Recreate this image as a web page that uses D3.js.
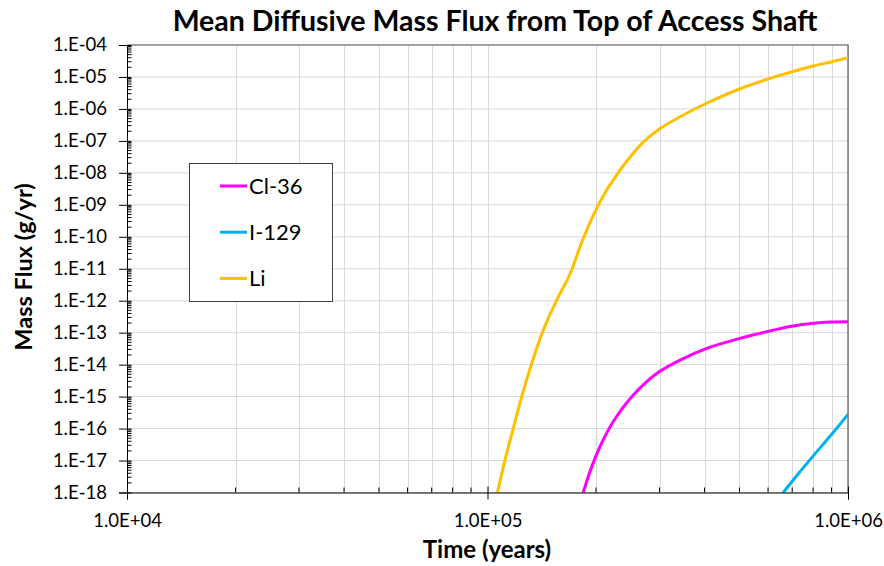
<!DOCTYPE html>
<html><head><meta charset="utf-8">
<script src="https://cdn.jsdelivr.net/npm/d3@7"></script>
<style>body{margin:0;background:#fff}svg{display:block}</style>
</head><body>
<script>
const title = "Mean Diffusive Mass Flux from Top of Access Shaft";
const xTitle = "Time (years)";
const yTitle = "Mass Flux (g/yr)";
const xTickValues = [1e4, 1e5, 1e6];
const xTickLabels = ["1.0E+04", "1.0E+05", "1.0E+06"];
const yTickValues = [1e-4,1e-5,1e-6,1e-7,1e-8,1e-9,1e-10,1e-11,1e-12,1e-13,1e-14,1e-15,1e-16,1e-17,1e-18];
const yTickLabels = ["1.E-04","1.E-05","1.E-06","1.E-07","1.E-08","1.E-09","1.E-10","1.E-11","1.E-12","1.E-13","1.E-14","1.E-15","1.E-16","1.E-17","1.E-18"];
const seriesNames = ["Cl-36", "I-129", "Li"];
const seriesColors = ["#FF00FF", "#00B0F0", "#FFC000"];

const timeCl = [1.844e5, 1.924e5, 2.051e5, 2.234e5, 2.538e5, 2.946e5, 3.42e5, 4.056e5, 5.017e5, 5.95e5, 7.05e5, 8.01e5, 8.91e5, 1e6];
const fluxCl = [1e-18, 4.5e-18, 2.7e-17, 1.66e-16, 1.12e-15, 5.3e-15, 1.39e-14, 3.24e-14, 6.65e-14, 1.07e-13, 1.61e-13, 1.96e-13, 2.15e-13, 2.2e-13];

const timeI = [6.615e5, 7.3e5, 8.01e5, 9.0e5, 1e6];
const fluxI = [1e-18, 4.0e-18, 1.4e-17, 6.5e-17, 2.79e-16];

const timeLi = [1.066e5, 1.118e5, 1.179e5, 1.2445e5, 1.327e5, 1.428e5, 1.556e5, 1.665e5, 1.712e5, 1.806e5, 1.987e5, 2.141e5, 2.283e5, 2.433e5, 2.705e5, 3e5, 3.42e5, 4e5, 5e5, 6e5, 7e5, 8e5, 9e5, 1e6];
const fluxLi = [1e-18, 1.03e-17, 1.02e-16, 1e-15, 1.1e-14, 1.2e-13, 1.05e-12, 4.5e-12, 9.1e-12, 4.9e-11, 6.1e-10, 2.9e-9, 8.6e-9, 2.3e-8, 9.2e-8, 2.35e-7, 5.7e-7, 1.4e-6, 4.2e-6, 8.6e-6, 1.46e-5, 2.2e-5, 3.0e-5, 4.0e-5];

const seriesTimes = [timeCl, timeI, timeLi];
const seriesFlux = [fluxCl, fluxI, fluxLi];

const W = 884, H = 566;
const M = {left: 127, right: 848, top: 45, bottom: 492.5};
const FONT = "Lato, 'Open Sans', sans-serif";

const svg = d3.select("body").append("svg").attr("width", W).attr("height", H);

const x = d3.scaleLog().domain([1e4, 1e6]).range([M.left, M.right]);
const y = d3.scaleLog().domain([1e-18, 1e-4]).range([M.bottom, M.top]);

const xMinor = [];
for (let d = 1e4; d < 1e6; d *= 10) for (let k = 2; k <= 9; k++) xMinor.push(d * k);
const yMinor = [];
for (let d = 1e-18; d < 1e-4; d *= 10) for (let k = 2; k <= 9; k++) yMinor.push(d * k);

// gridlines
const grid = svg.append("g").attr("stroke", "#D9D9D9").attr("stroke-width", 1);
grid.selectAll(".vg").data(xMinor.concat(xTickValues)).join("line")
  .attr("x1", d => Math.round(x(d)) + 0.5).attr("x2", d => Math.round(x(d)) + 0.5)
  .attr("y1", M.top).attr("y2", M.bottom);
grid.selectAll(".hg").data(yTickValues).join("line")
  .attr("x1", M.left).attr("x2", M.right)
  .attr("y1", d => y(d)).attr("y2", d => y(d));

// border top/right
svg.append("path").attr("d", `M${M.left},${M.top}H${M.right}V${M.bottom}`)
  .attr("fill", "none").attr("stroke", "#595959").attr("stroke-width", 1.2);

// series
const clipId = "plotclip";
svg.append("clipPath").attr("id", clipId).append("rect")
  .attr("x", M.left).attr("y", M.top).attr("width", M.right - M.left).attr("height", M.bottom - M.top);
const line = d3.line().x(d => x(d[0])).y(d => y(d[1])).curve(d3.curveCatmullRom.alpha(0.5));
seriesNames.forEach((name, i) => {
  const pts = seriesTimes[i].map((t, j) => [t, seriesFlux[i][j]]);
  svg.append("path").datum(pts).attr("d", line)
    .attr("fill", "none").attr("stroke", seriesColors[i]).attr("stroke-width", 3)
    .attr("stroke-linecap", "round")
    .attr("clip-path", `url(#${clipId})`);
});

// axes
const yAxisG = svg.append("g").attr("transform", `translate(${M.left},0)`);
yAxisG.call(d3.axisLeft(y).tickValues(yTickValues).tickSize(8).tickFormat((d, i) => yTickLabels[i]));
yAxisG.selectAll(".tick line").attr("x2", -8).attr("x1", 4.5);
yAxisG.select(".domain").attr("stroke", "#000");
yAxisG.selectAll("text").attr("font-family", FONT).attr("font-size", 18.5).attr("fill", "#000").attr("x", -20);
yAxisG.selectAll(".minor").data(yMinor).join("line").attr("class", "minor")
  .attr("x1", 0).attr("x2", 4.5).attr("y1", d => y(d)).attr("y2", d => y(d)).attr("stroke", "#000");

const xAxisG = svg.append("g").attr("transform", `translate(0,${M.bottom})`);
xAxisG.call(d3.axisBottom(x).tickValues(xTickValues).tickSize(7).tickFormat((d, i) => xTickLabels[i]));
xAxisG.selectAll(".tick line").attr("y1", -6).attr("y2", 7);
xAxisG.select(".domain").attr("stroke", "#000");
xAxisG.selectAll("text").attr("font-family", FONT).attr("font-size", 18.5).attr("fill", "#000")
  .attr("dy", null).attr("y", 34.5);
xAxisG.selectAll(".minor").data(xMinor).join("line").attr("class", "minor")
  .attr("x1", d => x(d)).attr("x2", d => x(d)).attr("y1", 0).attr("y2", -5).attr("stroke", "#000");

// titles
svg.append("text").attr("x", 495).attr("y", 31).attr("text-anchor", "middle")
  .attr("font-family", FONT).attr("font-weight", "bold").attr("font-size", 28.5).text(title);
svg.append("text").attr("x", 487).attr("y", 558).attr("text-anchor", "middle")
  .attr("font-family", FONT).attr("font-weight", "bold").attr("font-size", 24).text(xTitle);
svg.append("text").attr("transform", `translate(32,267) rotate(-90)`).attr("text-anchor", "middle")
  .attr("font-family", FONT).attr("font-weight", "bold").attr("font-size", 23.5).text(yTitle);

// legend
const lg = svg.append("g");
lg.append("rect").attr("x", 189.5).attr("y", 163.5).attr("width", 143).attr("height", 138)
  .attr("fill", "#fff").attr("stroke", "#404040").attr("stroke-width", 1);
seriesNames.forEach((name, i) => {
  const yy = 186 + i * 46.2;
  lg.append("line").attr("x1", 220).attr("x2", 247).attr("y1", yy).attr("y2", yy)
    .attr("stroke", seriesColors[i]).attr("stroke-width", 3);
  lg.append("text").attr("x", 249).attr("y", yy + 8).attr("font-family", FONT)
    .attr("font-size", 22).attr("fill", "#000").text(name);
});
</script>
</body></html>
